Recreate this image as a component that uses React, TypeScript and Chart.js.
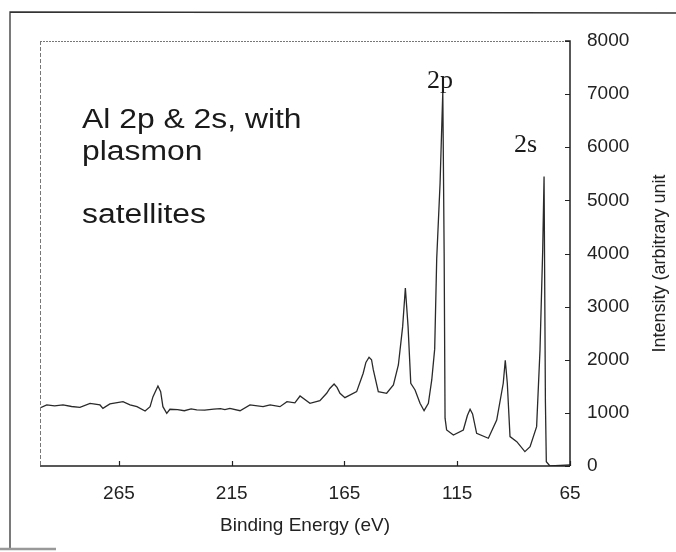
import React, { useEffect, useRef } from "react";
import { Chart, registerables } from "chart.js";

Chart.register(...registerables);

const energy = [
  300.0, 297.0, 293.5, 289.8, 286.0, 282.3, 277.8, 273.4, 272.1, 269.0, 263.2, 260.1, 257.0, 253.4, 251.2,
  249.9, 247.7, 246.5, 245.5, 243.8, 242.4, 239.0, 236.0, 233.0, 230.5, 227.0, 223.0, 220.0, 218.0, 215.8,
  211.3, 206.9, 201.1, 198.0, 193.6, 190.5, 187.0, 184.7, 180.3, 175.9, 172.9, 171.5, 169.6, 168.3, 167.0,
  164.8, 159.6, 156.7, 155.5, 154.1, 153.0, 152.2, 150.0, 146.3, 143.3, 141.1, 139.2, 138.0, 136.8, 135.6,
  133.7, 131.5, 129.7, 127.8, 126.3, 125.0, 124.1, 122.6, 121.4, 120.8, 120.4, 119.7, 116.7, 112.3, 110.5,
  109.3, 108.2, 106.4, 101.2, 97.5, 94.6, 93.7, 92.8, 91.6, 88.6, 85.0, 82.7, 79.8, 78.3, 77.1,
  76.5, 75.9, 75.5, 73.9, 69.4, 65.0,
];
const intensity = [
  1092, 1149, 1130, 1149, 1120, 1105, 1180, 1149, 1086, 1168, 1211, 1149, 1117, 1036, 1117,
  1305, 1507, 1400, 1117, 992, 1068, 1060, 1040, 1075, 1055, 1050, 1070, 1080, 1060, 1086,
  1041, 1149, 1117, 1149, 1117, 1211, 1190, 1318, 1180, 1230, 1369, 1460, 1544, 1480, 1369,
  1286, 1400, 1746, 1950, 2047, 2000, 1808, 1400, 1369, 1525, 1902, 2623, 3350, 2623, 1557,
  1431, 1180, 1041, 1180, 1620, 2200, 3900, 5330, 7050, 4000, 900, 678, 584, 678, 950,
  1068, 980, 616, 522, 866, 1557, 1990, 1557, 553, 458, 270, 364, 741, 2185, 4068,
  5450, 1200, 80, 0, 10, 20,
];
const xTicks = [65, 115, 165, 215, 265];
const yMin = 0;
const yMax = 8000;
const yStep = 1000;
const xMin = 65;
const xMax = 300;

const noteLines = ["Al 2p & 2s, with", "plasmon", "satellites"];
const peakLabels = ["2p", "2s"];
const yTitle = "Intensity (arbitrary unit";
const xTitle = "Binding Energy (eV)";

const decorPlugin = {
  id: "decor",
  afterDraw(chart: any) {
    const { ctx, chartArea } = chart;
    const { left, right, top, bottom } = chartArea;
    const xs = chart.scales.x;
    const ys = chart.scales.y;
    ctx.save();
    // outer frame (partial, as scanned)
    ctx.strokeStyle = "#333";
    ctx.lineWidth = 1.3;
    ctx.beginPath();
    ctx.moveTo(10, 548);
    ctx.lineTo(10, 12);
    ctx.lineTo(676, 13);
    ctx.stroke();
    ctx.strokeStyle = "#999";
    ctx.lineWidth = 2.5;
    ctx.beginPath();
    ctx.moveTo(0, 549);
    ctx.lineTo(56, 549);
    ctx.stroke();

    // plot box: top dotted, left dashed
    ctx.strokeStyle = "#777";
    ctx.lineWidth = 1;
    ctx.setLineDash([2, 1]);
    ctx.beginPath();
    ctx.moveTo(left, top + 0.5);
    ctx.lineTo(right, top + 0.5);
    ctx.stroke();
    ctx.setLineDash([4, 2]);
    ctx.beginPath();
    ctx.moveTo(left + 0.5, top);
    ctx.lineTo(left + 0.5, bottom);
    ctx.stroke();
    ctx.setLineDash([]);
    // axes solid
    ctx.strokeStyle = "#222";
    ctx.lineWidth = 1.5;
    ctx.beginPath();
    ctx.moveTo(left, bottom);
    ctx.lineTo(right, bottom);
    ctx.moveTo(right, bottom);
    ctx.lineTo(right, top);
    ctx.lineTo(right - 5, top);
    ctx.stroke();
    // inward ticks
    ctx.lineWidth = 1.2;
    ctx.beginPath();
    for (let v = yMin; v <= yMax; v += yStep) {
      const py = Math.round(ys.getPixelForValue(v)) + 0.5;
      ctx.moveTo(right, py);
      ctx.lineTo(right - 5, py);
    }
    for (const t of xTicks) {
      const px = Math.round(xs.getPixelForValue(t)) + 0.5;
      ctx.moveTo(px, bottom);
      ctx.lineTo(px, bottom - 5);
    }
    ctx.stroke();

    // y title rotated (reads bottom to top)
    ctx.fillStyle = "#222";
    ctx.font = "18px 'Liberation Sans', Arial, sans-serif";
    ctx.textAlign = "center";
    ctx.textBaseline = "middle";
    ctx.translate(660, (top + bottom) / 2 + 10);
    ctx.rotate(-Math.PI / 2);
    ctx.fillText(yTitle, 0, 0);
    ctx.restore();

    // annotation text block
    ctx.save();
    ctx.fillStyle = "#1a1a1a";
    ctx.font = "27px 'Liberation Sans', Arial, sans-serif";
    ctx.textAlign = "left";
    ctx.textBaseline = "alphabetic";
    const baselines = [128, 160, 223];
    noteLines.forEach((line, i) => {
      ctx.save();
      ctx.translate(82, baselines[i]);
      ctx.scale(1.18, 1);
      ctx.fillText(line, 0, 0);
      ctx.restore();
    });
    // peak labels
    ctx.font = "26px 'Liberation Serif', 'Times New Roman', serif";
    const peakPos = [
      [427, 88],
      [514, 152],
    ];
    peakLabels.forEach((p, i) => {
      ctx.fillText(p, peakPos[i][0], peakPos[i][1]);
    });
    ctx.restore();
  },
};

export default function App() {
  const ref = useRef<HTMLCanvasElement | null>(null);
  useEffect(() => {
    if (!ref.current) return;
    const points = energy.map((e, i) => ({ x: e, y: intensity[i] }));
    const chart = new Chart(ref.current, {
      type: "line",
      data: {
        datasets: [
          {
            data: points,
            borderColor: "#2a2a2a",
            borderWidth: 1.3,
            pointRadius: 0,
            tension: 0,
            fill: false,
          },
        ],
      },
      options: {
        animation: false,
        responsive: false,
        devicePixelRatio: 1,
        layout: { padding: { left: 40, top: 41, right: 0, bottom: 0 } },
        plugins: { legend: { display: false }, tooltip: { enabled: false } },
        scales: {
          x: {
            type: "linear",
            position: "bottom",
            reverse: true,
            min: xMin,
            max: xMax,
            afterBuildTicks: (axis: any) => {
              axis.ticks = xTicks.map((v) => ({ value: v }));
            },
            afterFit: (s: any) => {
              s.height = 86;
            },
            grid: { display: false, drawTicks: false },
            border: { display: false },
            ticks: {
              padding: 16,
              color: "#222",
              font: { family: "'Liberation Sans', Arial, sans-serif", size: 19 },
              maxRotation: 0,
              autoSkip: false,
              callback: (v: any) => String(v),
            },
            title: {
              display: true,
              text: xTitle,
              color: "#222",
              font: { family: "'Liberation Sans', Arial, sans-serif", size: 19 },
              padding: { top: 0, bottom: 15 },
            },
          },
          y: {
            type: "linear",
            position: "right",
            min: yMin,
            max: yMax,
            afterFit: (s: any) => {
              s.width = 106;
            },
            grid: { display: false, drawTicks: false },
            border: { display: false },
            ticks: {
              stepSize: yStep,
              padding: 17,
              color: "#222",
              font: { family: "'Liberation Sans', Arial, sans-serif", size: 19 },
              callback: (v: any) => String(v),
            },
          },
        },
      },
      plugins: [decorPlugin],
    });
    return () => chart.destroy();
  }, []);
  return (
    <div style={{ position: "fixed", left: 0, top: 0, width: 676, height: 552, background: "#fff" }}>
      <canvas ref={ref} width={676} height={552} style={{ display: "block" }} />
    </div>
  );
}
